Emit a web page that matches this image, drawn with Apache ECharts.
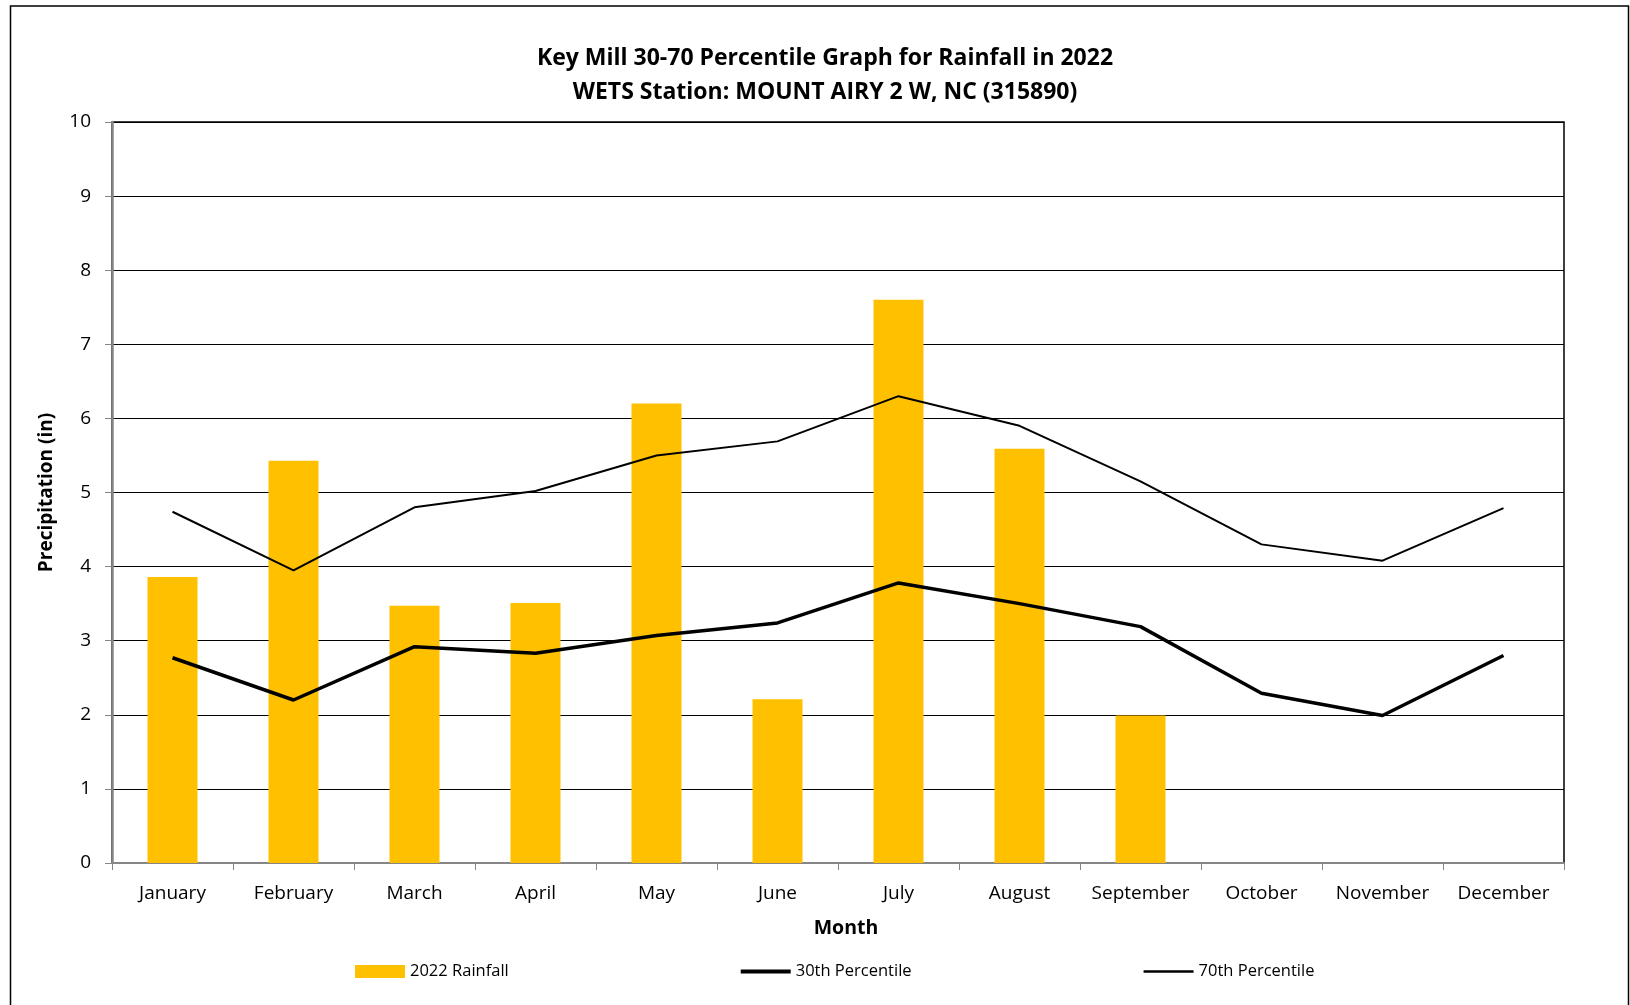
<!DOCTYPE html>
<html>
<head>
<meta charset="utf-8">
<title>Key Mill 30-70 Percentile Graph for Rainfall in 2022</title>
<script src="https://cdn.jsdelivr.net/npm/echarts@6/dist/echarts.min.js"></script>
<style>
  html, body { margin: 0; padding: 0; background: #ffffff; }
  #chart { width: 1630px; height: 1005px; }
</style>
</head>
<body>
<div id="chart"></div>
<script>
// Monthly precipitation (inches) at WETS station Mount Airy 2 W, NC
const months = ['January', 'February', 'March', 'April', 'May', 'June',
                'July', 'August', 'September', 'October', 'November', 'December'];
const rainfall2022 = [3.86, 5.43, 3.47, 3.51, 6.20, 2.21, 7.60, 5.59, 1.99, null, null, null];
const percentile30 = [2.77, 2.20, 2.92, 2.83, 3.07, 3.24, 3.78, 3.50, 3.19, 2.29, 1.99, 2.80];
const percentile70 = [4.74, 3.95, 4.80, 5.02, 5.50, 5.69, 6.30, 5.90, 5.15, 4.30, 4.08, 4.79];
const yTicks = [0, 10, 1]; // min, max, step

const FONT = 'Open Sans';

// Legend line icons: a horizontal stroke inside a 50x13 box (the corner moves fix the box size)
const lineIcon = (h) => {
  const y0 = (13 - h) / 2, y1 = y0 + h;
  return `path://M0,0M50,13M0,${y0}L50,${y0}L50,${y1}L0,${y1}Z`;
};

const chart = echarts.init(document.getElementById('chart'), null, { renderer: 'canvas' });

chart.setOption({
  backgroundColor: '#ffffff',
  animation: false,
  textStyle: { fontFamily: FONT, color: '#000' },
  title: {
    text: 'Key Mill 30-70 Percentile Graph for Rainfall in 2022\nWETS Station: MOUNT AIRY 2 W, NC (315890)',
    left: 825,
    textAlign: 'center',
    top: 41,
    padding: 0,
    textStyle: { fontFamily: FONT, fontWeight: 'bold', fontSize: 23, lineHeight: 34.5, color: '#000' }
  },
  legend: {
    top: 963,
    left: 355,
    padding: 0,
    itemGap: 232,
    itemWidth: 50,
    itemHeight: 13,
    textStyle: { fontFamily: FONT, fontSize: 16.5, color: '#000' },
    data: [
      { name: '2022 Rainfall', icon: 'rect' },
      { name: '30th Percentile', icon: lineIcon(4), itemStyle: { color: '#000' } },
      { name: '70th Percentile', icon: lineIcon(2.5), itemStyle: { color: '#000' } }
    ]
  },
  grid: {
    left: 112, right: 66, top: 122, bottom: 142,
    show: true, borderColor: '#000', borderWidth: 1.5, backgroundColor: 'transparent'
  },
  xAxis: {
    type: 'category',
    data: months,
    name: 'Month',
    nameLocation: 'middle',
    nameGap: 55,
    nameTextStyle: { fontFamily: FONT, fontWeight: 'bold', fontSize: 19.5, color: '#000', padding: [0, 0, 0, 16] },
    axisLine: { lineStyle: { color: '#868686', width: 2 } },
    axisTick: { show: true, inside: false, interval: 0, length: 7, lineStyle: { color: '#868686', width: 1 } },
    axisLabel: { fontFamily: FONT, fontSize: 19, color: '#000', margin: 21, interval: 0 }
  },
  yAxis: {
    type: 'value',
    min: yTicks[0], max: yTicks[1], interval: yTicks[2],
    name: 'Precipitation (in)',
    nameLocation: 'middle',
    nameGap: 56,
    nameTextStyle: { fontFamily: FONT, fontWeight: 'bold', fontSize: 19, color: '#000' },
    axisLine: { show: true, lineStyle: { color: '#868686', width: 2.5 } },
    axisTick: { show: true, inside: false, length: 7, lineStyle: { color: '#868686', width: 1 } },
    axisLabel: { fontFamily: FONT, fontSize: 19, color: '#000', margin: 21 },
    splitLine: { show: true, lineStyle: { color: '#000', width: 1 } }
  },
  series: [
    {
      name: '2022 Rainfall',
      type: 'bar',
      data: rainfall2022,
      barWidth: 50,
      itemStyle: { color: '#FFC000' },
      z: 2
    },
    {
      name: '30th Percentile',
      type: 'line',
      data: percentile30,
      symbol: 'none',
      lineStyle: { color: '#000', width: 3.5 },
      itemStyle: { color: '#000' },
      z: 3
    },
    {
      name: '70th Percentile',
      type: 'line',
      data: percentile70,
      symbol: 'none',
      lineStyle: { color: '#000', width: 2 },
      itemStyle: { color: '#000' },
      z: 3
    }
  ],
  graphic: [
    {
      type: 'rect',
      shape: { x: 10.5, y: 6, width: 1618, height: 1010 },
      style: { fill: 'none', stroke: '#000', lineWidth: 1.5 },
      silent: true,
      z: -1
    }
  ]
});
</script>
</body>
</html>
